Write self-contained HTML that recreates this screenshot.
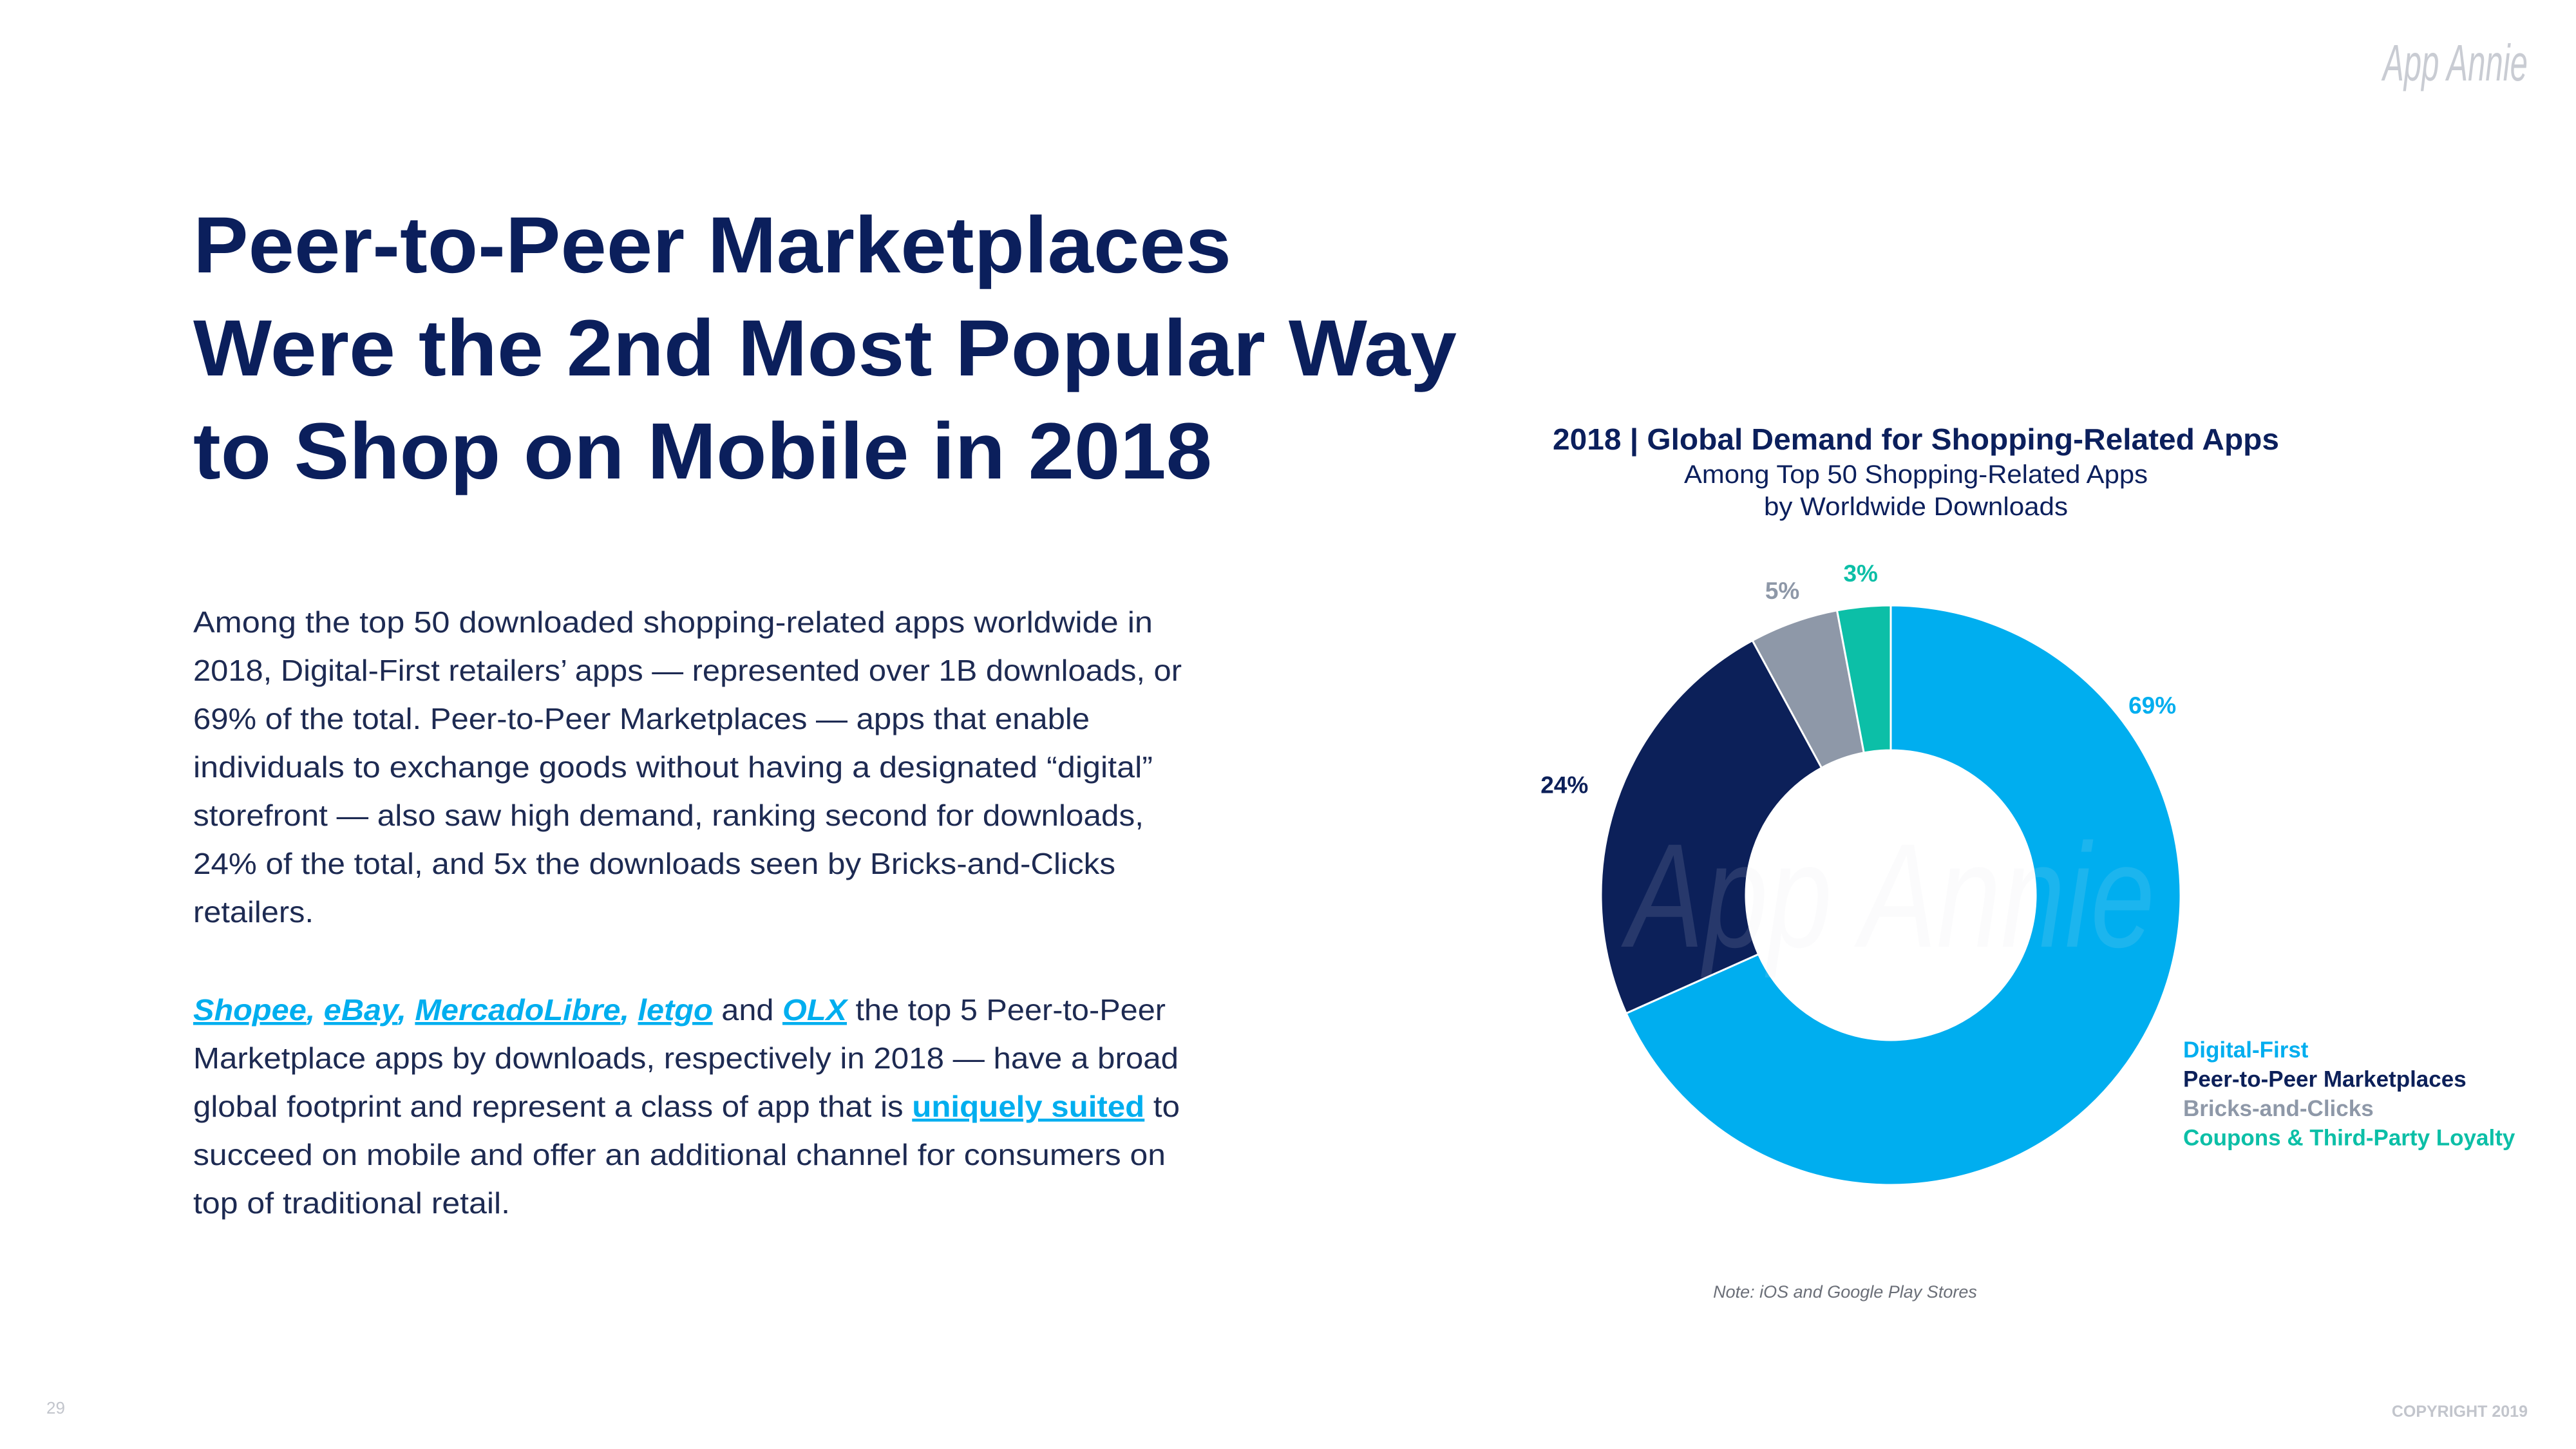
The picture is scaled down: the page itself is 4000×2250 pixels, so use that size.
<!DOCTYPE html>
<html><head><meta charset="utf-8"><style>
html,body{margin:0;padding:0;background:#fff;}
svg{display:block;font-family:"Liberation Sans",sans-serif;}
</style></head><body>
<svg id="page" width="4000" height="2250" viewBox="0 0 4000 2250" xmlns="http://www.w3.org/2000/svg">
<rect width="4000" height="2250" fill="#fff"/>
<text x="3925" y="125" text-anchor="end" font-size="80" font-style="italic" fill="#c9ccd3" textLength="225" lengthAdjust="spacingAndGlyphs">App Annie</text>
<g font-weight="bold" font-size="124" fill="#0b1f5c">
<text x="300" y="423" textLength="1612" lengthAdjust="spacingAndGlyphs">Peer-to-Peer Marketplaces</text>
<text x="300" y="583" textLength="1962" lengthAdjust="spacingAndGlyphs">Were the 2nd Most Popular Way</text>
<text x="300" y="743" textLength="1582" lengthAdjust="spacingAndGlyphs">to Shop on Mobile in 2018</text>
</g>
<g font-size="46" fill="#1d2a52">
<text x="300" y="982" textLength="1490" lengthAdjust="spacingAndGlyphs">Among the top 50 downloaded shopping-related apps worldwide in</text>
<text x="300" y="1057" textLength="1535" lengthAdjust="spacingAndGlyphs">2018, Digital-First retailers’ apps — represented over 1B downloads, or</text>
<text x="300" y="1132" textLength="1392" lengthAdjust="spacingAndGlyphs">69% of the total. Peer-to-Peer Marketplaces — apps that enable</text>
<text x="300" y="1207" textLength="1490" lengthAdjust="spacingAndGlyphs">individuals to exchange goods without having a designated “digital”</text>
<text x="300" y="1282" textLength="1476" lengthAdjust="spacingAndGlyphs">storefront — also saw high demand, ranking second for downloads,</text>
<text x="300" y="1357" textLength="1432" lengthAdjust="spacingAndGlyphs">24% of the total, and 5x the downloads seen by Bricks-and-Clicks</text>
<text x="300" y="1432" textLength="187" lengthAdjust="spacingAndGlyphs">retailers.</text>
<text x="300" y="1584" textLength="1510" lengthAdjust="spacingAndGlyphs"><tspan fill="#00aeef" font-weight="bold" font-style="italic" text-decoration="underline">Shopee</tspan><tspan fill="#00aeef" font-weight="bold" font-style="italic">, </tspan><tspan fill="#00aeef" font-weight="bold" font-style="italic" text-decoration="underline">eBay</tspan><tspan fill="#00aeef" font-weight="bold" font-style="italic">, </tspan><tspan fill="#00aeef" font-weight="bold" font-style="italic" text-decoration="underline">MercadoLibre</tspan><tspan fill="#00aeef" font-weight="bold" font-style="italic">, </tspan><tspan fill="#00aeef" font-weight="bold" font-style="italic" text-decoration="underline">letgo</tspan> and <tspan fill="#00aeef" font-weight="bold" font-style="italic" text-decoration="underline">OLX</tspan> the top 5 Peer-to-Peer</text>
<text x="300" y="1659" textLength="1530" lengthAdjust="spacingAndGlyphs">Marketplace apps by downloads, respectively in 2018 — have a broad</text>
<text x="300" y="1734" textLength="1532" lengthAdjust="spacingAndGlyphs">global footprint and represent a class of app that is <tspan fill="#00aeef" font-weight="bold" text-decoration="underline">uniquely suited</tspan> to</text>
<text x="300" y="1809" textLength="1510" lengthAdjust="spacingAndGlyphs">succeed on mobile and offer an additional channel for consumers on</text>
<text x="300" y="1884" textLength="492" lengthAdjust="spacingAndGlyphs">top of traditional retail.</text>
</g>
<text x="2975" y="698" text-anchor="middle" font-size="46" font-weight="bold" fill="#0b1f5c" textLength="1128" lengthAdjust="spacingAndGlyphs">2018 | Global Demand for Shopping-Related Apps</text>
<text x="2975" y="750" text-anchor="middle" font-size="40" fill="#0b1f5c" textLength="720" lengthAdjust="spacingAndGlyphs">Among Top 50 Shopping-Related Apps</text>
<text x="2975" y="800" text-anchor="middle" font-size="40" fill="#0b1f5c" textLength="472" lengthAdjust="spacingAndGlyphs">by Worldwide Downloads</text>
<g id="donut"></g>
<g id="legend"></g>
<text x="2865" y="2015" text-anchor="middle" font-size="27" font-style="italic" fill="#6b6f78">Note: iOS and Google Play Stores</text>
<text x="72" y="2195" font-size="26" fill="#c2c5cc">29</text>
<text x="3925" y="2200" text-anchor="end" font-size="25" font-weight="bold" fill="#c2c5cc">COPYRIGHT 2019</text>
</svg>
<script>
const categories = ["Digital-First","Peer-to-Peer Marketplaces","Bricks-and-Clicks","Coupons & Third-Party Loyalty"];
const values = [69, 24, 5, 3];
const valueLabels = ["69%","24%","5%","3%"];
const colors = ["#00aeef","#0c2059","#8e98a8","#0cbfa7"];
const NS = "http://www.w3.org/2000/svg";
const cx = 2936, cy = 1390, R = 450, r = 225;
const total = values.reduce((a,b)=>a+b,0);
const donut = document.getElementById('donut');
const ang = v => v / total * 2 * Math.PI;
const pt = (a, rad) => [cx + rad*Math.sin(a), cy - rad*Math.cos(a)];
const wm = document.createElementNS(NS,'text');
let start = 0;
values.forEach((v,i)=>{
  const end = start + ang(v);
  const large = end - start > Math.PI ? 1 : 0;
  const [x1,y1]=pt(start,R),[x2,y2]=pt(end,R),[x3,y3]=pt(end,r),[x4,y4]=pt(start,r);
  const p = document.createElementNS(NS,'path');
  p.setAttribute('d',`M${x1},${y1}A${R},${R} 0 ${large} 1 ${x2},${y2}L${x3},${y3}A${r},${r} 0 ${large} 0 ${x4},${y4}Z`);
  p.setAttribute('fill',colors[i]);
  p.setAttribute('stroke','#fff');
  p.setAttribute('stroke-width','3');
  
  
  donut.appendChild(p);
  const frac = v / total;
  const la = frac > 0.5 ? start + 0.15 * 2 * Math.PI : (start+end)/2;
  const lr = frac > 0.15 && frac <= 0.5 ? R + 85 : R + 52;
  const [lx,ly] = pt(la, lr);
  const t = document.createElementNS(NS,'text');
  t.setAttribute('x', lx); t.setAttribute('y', ly + 13);
  t.setAttribute('text-anchor','middle');
  t.setAttribute('font-size','37'); t.setAttribute('font-weight','bold');
  t.setAttribute('fill', colors[i]);
  t.textContent = valueLabels[i];
  
  
  donut.appendChild(t);
  start = end;
});
wm.setAttribute('x', cx); wm.setAttribute('y', cy + 80);
wm.setAttribute('text-anchor','middle'); wm.setAttribute('font-size','230');
wm.setAttribute('font-style','italic'); wm.setAttribute('fill','#e4e6ec');
wm.setAttribute('opacity','0.12');
wm.setAttribute('textLength','820'); wm.setAttribute('lengthAdjust','spacingAndGlyphs');
wm.textContent = 'App Annie';


donut.appendChild(wm);
const legend = document.getElementById('legend');
categories.forEach((c,i)=>{
  const t = document.createElementNS(NS,'text');
  t.setAttribute('x', 3390); t.setAttribute('y', 1642 + i*45.5);
  t.setAttribute('font-size','35'); t.setAttribute('font-weight','bold');
  t.setAttribute('fill', colors[i]);
  t.textContent = c;
  
  
  legend.appendChild(t);
});
</script>
</body></html>
